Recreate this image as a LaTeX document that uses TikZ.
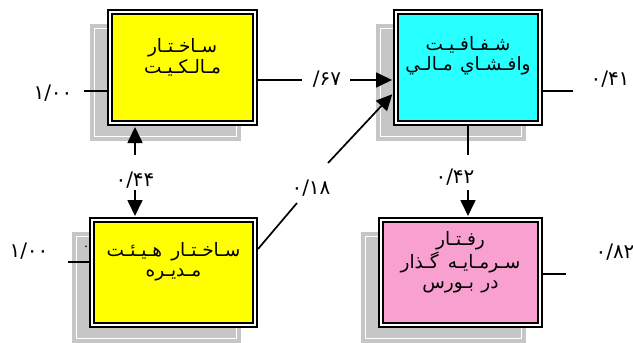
\documentclass[tikz,border=0pt]{standalone}
\usepackage{fontspec}
\usepackage{tikz}
\usetikzlibrary{calc}
\usetikzlibrary{arrows.meta, backgrounds}
\newfontfamily\arabicfont[Script=Arabic]{DejaVu Sans}
\TeXXeTstate=1
\definecolor{boxyellow}{RGB}{255,255,0}
\definecolor{boxcyan}{RGB}{40,255,255}
\definecolor{boxpink}{RGB}{248,160,208}
\definecolor{shadowgray}{RGB}{198,198,198}
\tikzstyle{varbox} = [rectangle, draw=black, line width=2pt, double=white, double distance=1.6pt, outer sep=2.8pt, inner sep=0pt]
\tikzstyle{vartext} = [font=\arabicfont\fontsize{18.5}{20.5}\selectfont, align=center, inner sep=0pt]
\tikzstyle{coef} = [font=\arabicfont\fontsize{20}{20}\selectfont, inner sep=0pt]
\tikzstyle{arrow} = [line width=1.7pt, -{Triangle[length=16pt,width=15pt]}, shorten >=1pt]
\tikzstyle{errline} = [line width=1.3pt]

\begin{document}
\begin{tikzpicture}[x=1pt, y=-1pt]
\useasboundingbox (0,0) rectangle (633,343);

\node (own) [varbox, fill=boxyellow, minimum width=145.4pt, minimum height=111.4pt,
  label={[vartext, yshift=10pt]center:{\beginR سـاخـتـار\endR\\\beginR مـالـکـیـت\endR}}] at (182.5,67.5) {};
\node (trans) [varbox, fill=boxcyan, minimum width=144.4pt, minimum height=111.4pt,
  label={[vartext, yshift=12pt]center:{\beginR شـفـافـیـت\endR\\\beginR وافـشـاي\hspace{0.4em}مـالـي\endR}}] at (468,67.5) {};
\node (board) [varbox, fill=boxyellow, minimum width=163.4pt, minimum height=105.4pt,
  label={[vartext, yshift=11pt]center:{\beginR سـاخـتـار\hspace{0.5em}هـیـئـت\endR\\\beginR مـدیـره\endR}}] at (173.5,272.5) {};
\node (inv) [varbox, fill=boxpink, minimum width=159.4pt, minimum height=105.4pt,
  label={[vartext, yshift=10pt]center:{\beginR رفـتـار\endR\\\beginR سـرمـایـه\hspace{0.5em}گـذار\endR\\\beginR در\hspace{0.4em}بـورس\endR}}] at (460.5,272.5) {};

% shadows
\begin{scope}[on background layer]
\foreach \b in {own,trans,board,inv}{
  \fill[shadowgray] ($(\b.north west)+(-17,15)$) rectangle ($(\b.south east)+(-17,15)$);
  \draw[white, line width=0.8pt] ($(\b.north west)+(-12.5,19.5)$) rectangle ($(\b.south east)+(-21.5,10.5)$);
}
\end{scope}

% coefficients
\node (c1) [coef] at (53,93) {۱/۰۰};
\node (c2) [coef] at (327,79) {/\kern0pt۶۷};
\node (c3) [coef] at (610,79) {۰/۴۱};
\node (c4) [coef] at (135,180) {۰/۴۴};
\node (c5) [coef] at (311,188) {۰/۱۸};
\node (c6) [coef] at (455,177) {۰/۴۲};
\node (c7) [coef] at (29,251) {۱/۰۰};
\node (c8) [coef] at (615,252) {۰/۸۲};
\node (c9) [coef, font=\arabicfont\fontsize{13}{13}\selectfont] at (86,248) {۰};

\coordinate (e1) at (84,91);
\coordinate (e2) at (573,91);
\coordinate (e3) at (68,262);
\coordinate (e4) at (566,274);
\coordinate (p1) at (302,80);
\coordinate (p2) at (350,80);
\coordinate (p3) at (468,155);
\coordinate (p4) at (468,190);
\coordinate (p5) at (135,155);
\coordinate (p6) at (135,190);
\coordinate (q1) at (297,203);
\coordinate (q2) at (328,163);

\draw [errline] (e1) -- (e1 -| own.west);
\draw [errline] (e2) -- (e2 -| trans.east);
\draw [errline] (e3) -- (e3 -| board.west);
\draw [errline] (e4) -- (e4 -| inv.east);
\draw [errline, line width=1.7pt] (p1 -| own.east) -- (p1);
\draw [arrow] (p2) -- (p2 -| trans.west);
\draw [errline, line width=1.7pt] (trans.south) -- (p3);
\draw [arrow] (p4) -- (p4 |- inv.north);
\draw [arrow] (p5) -- (p5 |- own.south);
\draw [arrow] (p6) -- (p6 |- board.north);
\draw [errline, line width=1.7pt] ([yshift=23.5pt]board.east) -- (q1);
\draw [arrow] (q2) -- ([yshift=-26pt]trans.west);
\end{tikzpicture}
\end{document}
